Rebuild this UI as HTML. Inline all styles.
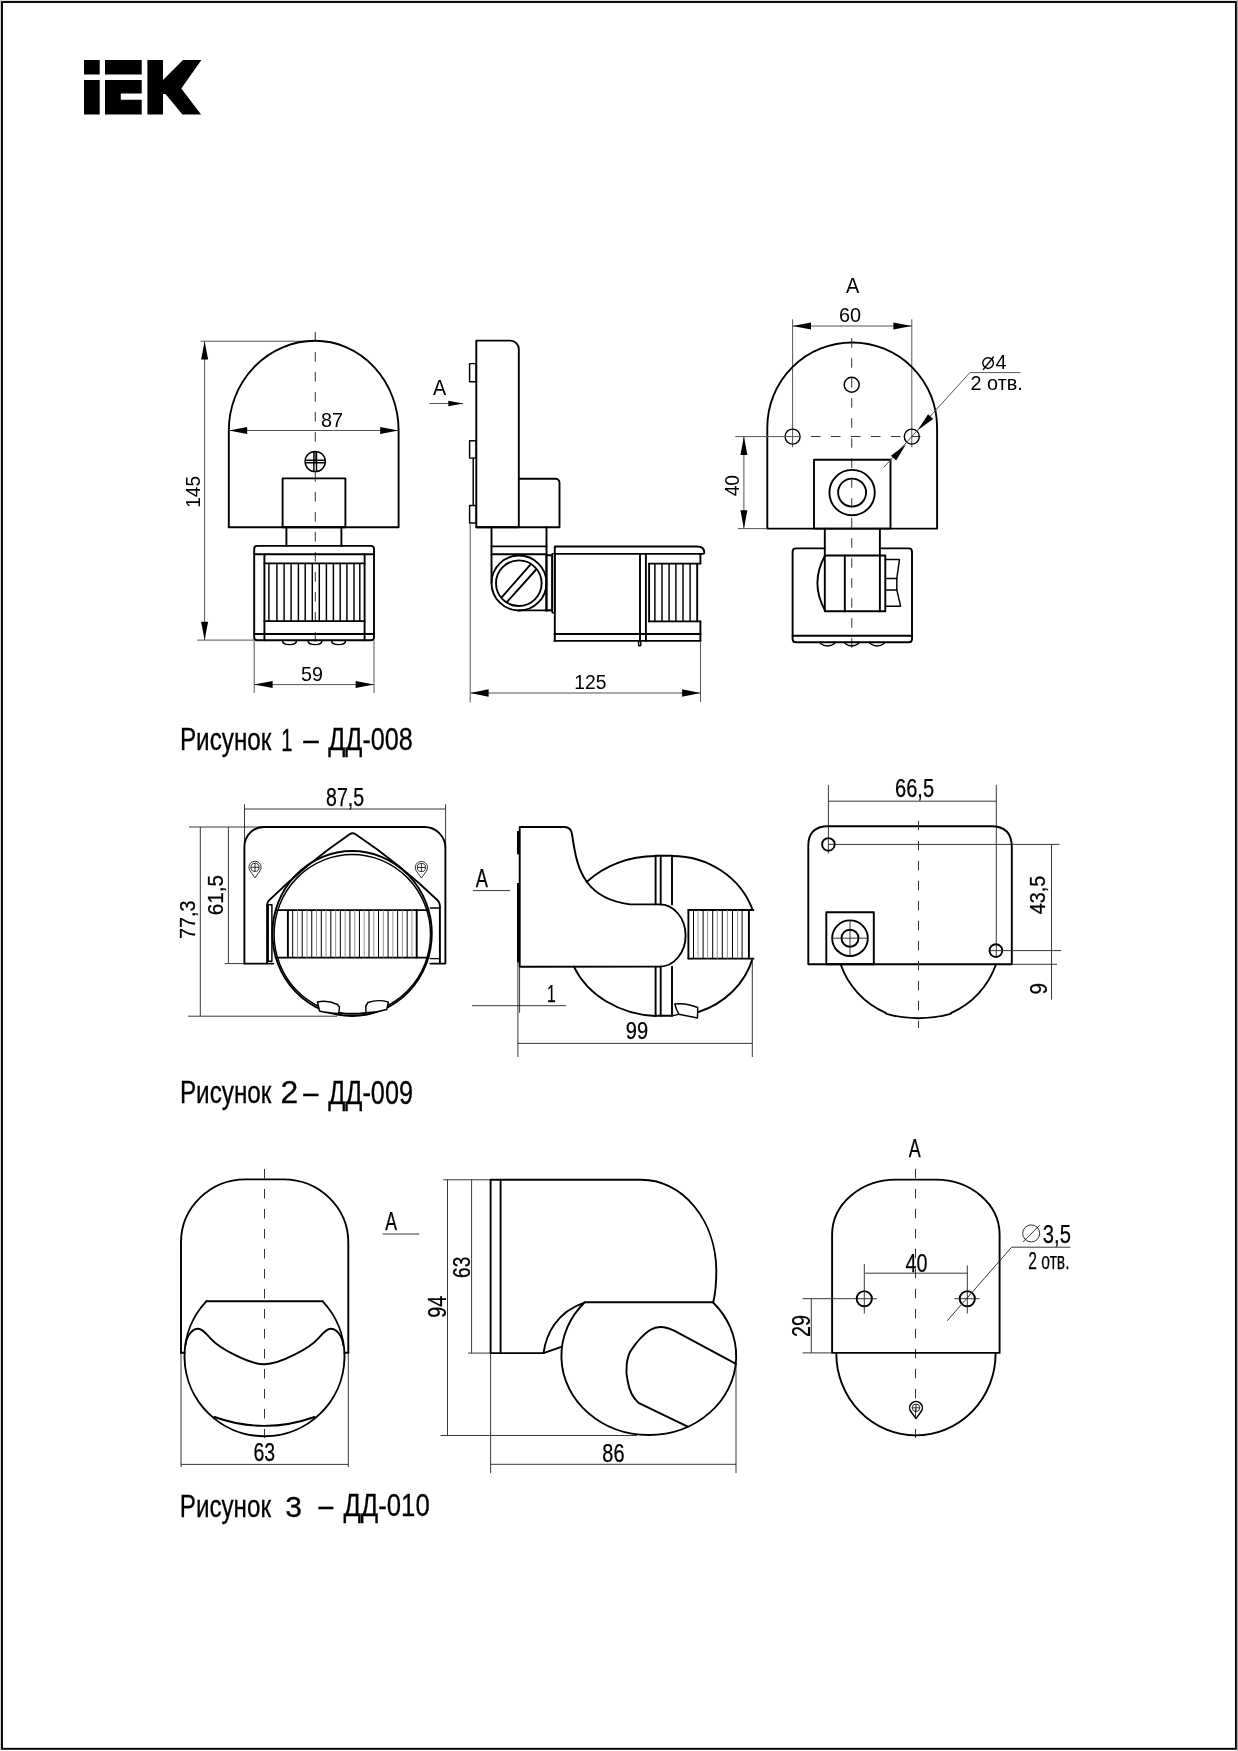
<!DOCTYPE html>
<html><head><meta charset="utf-8"><style>
html,body{margin:0;padding:0;background:#fff;overflow:hidden}
svg{display:block;filter:grayscale(1)}

.t{fill:none;stroke:#000;stroke-width:1.9;stroke-linejoin:round;stroke-linecap:round}
.m{fill:none;stroke:#000;stroke-width:1.45;stroke-linejoin:round;stroke-linecap:round}
.d{fill:none;stroke:#555;stroke-width:1}
.d2{fill:none;stroke:#222;stroke-width:0.9}
.c{fill:none;stroke:#333;stroke-width:1;stroke-dasharray:9.5 10.5}
.ar{fill:#000;stroke:none}
.rb{stroke:#000;stroke-width:1}
.rg{stroke:#888;stroke-width:0.9}
.s{fill:none;stroke:#000;stroke-width:0.8}
.mw{fill:#fff;stroke:#000;stroke-width:1.45;stroke-linejoin:round}
.tx{font-family:"Liberation Sans",sans-serif;fill:#000}
.tc{font-family:"Liberation Sans",sans-serif;fill:#000;stroke:#000;stroke-width:0.3}
.tn{font-family:"Liberation Sans",sans-serif;fill:#000;stroke:#000;stroke-width:0.25}
</style></head><body>
<svg width="1238" height="1751" viewBox="0 0 1238 1751">
<rect x="0" y="0" width="1238" height="1751" fill="#fff" stroke="none"/>
<rect x="0" y="0" width="1238" height="1" fill="#e2e2e2"/><rect x="0" y="0" width="1" height="1751" fill="#cfcfcf"/><rect x="1237" y="0" width="1" height="1751" fill="#a8a8a8"/>
<rect x="2" y="2" width="1233.9" height="1746.8" fill="none" stroke="#000" stroke-width="1.9"/>
<path d="M84,60H99.7V74.6H84Z M84,80H99.7V114.5H84Z M105,60H141.7V74.6H105Z M105,80H141.7V93.5H120.8V99.8H141.7V114.5H105Z M147.4,60H163V80L183,60H201.4L181.3,88.4L201.1,114.5H182.4L165.5,94H163V114.5H147.4Z" fill="#000" stroke="none"/>
<line x1="315.3" y1="332.1" x2="315.3" y2="644" class="c"/>
<line x1="200.5" y1="341.2" x2="313" y2="341.2" class="d"/>
<line x1="197" y1="640.1" x2="254" y2="640.1" class="d"/>
<line x1="204.6" y1="341.2" x2="204.6" y2="640.1" class="d"/>
<polygon points="204.6,341.2 208.1,359.6 201.1,359.6" class="ar"/>
<polygon points="204.6,640.1 201.1,621.7 208.1,621.7" class="ar"/>
<text x="199.9" y="507.75" font-size="20.06" text-anchor="start" transform="rotate(-90 199.9 507.75)" textLength="31.86" lengthAdjust="spacingAndGlyphs" class="tx">145</text>
<path d="M228.8,527.2 V430.5 A86.4,89.7 0 0 1 315.2,340.8 A83.4,89.7 0 0 1 398.6,430.5 V527.2 Z" class="t"/>
<line x1="228.8" y1="430.5" x2="398.6" y2="430.5" class="d"/>
<polygon points="228.8,430.5 247.2,427 247.2,434" class="ar"/>
<polygon points="398.6,430.5 380.2,434 380.2,427" class="ar"/>
<text x="321.04" y="426.7" font-size="20.2" text-anchor="start" textLength="22.06" lengthAdjust="spacingAndGlyphs" class="tx">87</text>
<circle cx="315.2" cy="461.5" r="10.1" class="m"/>
<line x1="313.9" y1="452" x2="313.9" y2="471" class="m"/>
<line x1="316.5" y1="452" x2="316.5" y2="471" class="m"/>
<line x1="305.5" y1="460.2" x2="325" y2="460.2" class="m"/>
<line x1="305.5" y1="462.8" x2="325" y2="462.8" class="m"/>
<rect x="282.6" y="478.4" width="62.8" height="48.8" rx="0" class="t"/>
<line x1="286.4" y1="527.2" x2="286.4" y2="545.9" class="t"/>
<line x1="341.4" y1="527.2" x2="341.4" y2="545.9" class="t"/>
<rect x="254.2" y="545.9" width="119.8" height="94.3" rx="3" class="t"/>
<line x1="254.2" y1="554.2" x2="374" y2="554.2" class="t"/>
<line x1="254.2" y1="634" x2="374" y2="634" class="t"/>
<line x1="264.4" y1="554.2" x2="264.4" y2="640.2" class="t"/>
<line x1="364.6" y1="554.2" x2="364.6" y2="640.2" class="t"/>
<line x1="264.4" y1="563.4" x2="364.6" y2="563.4" class="t"/>
<line x1="264.4" y1="621.1" x2="364.6" y2="621.1" class="t"/>
<line x1="268.9" y1="563.4" x2="268.9" y2="621.1" class="m"/>
<line x1="276.9" y1="563.4" x2="276.9" y2="621.1" class="m"/>
<line x1="284.1" y1="563.4" x2="284.1" y2="621.1" class="m"/>
<line x1="291.1" y1="563.4" x2="291.1" y2="621.1" class="m"/>
<line x1="298.4" y1="563.4" x2="298.4" y2="621.1" class="m"/>
<line x1="305.2" y1="563.4" x2="305.2" y2="621.1" class="m"/>
<line x1="312.3" y1="563.4" x2="312.3" y2="621.1" class="m"/>
<line x1="319.3" y1="563.4" x2="319.3" y2="621.1" class="m"/>
<line x1="326.4" y1="563.4" x2="326.4" y2="621.1" class="m"/>
<line x1="333.4" y1="563.4" x2="333.4" y2="621.1" class="m"/>
<line x1="340.2" y1="563.4" x2="340.2" y2="621.1" class="m"/>
<line x1="346.9" y1="563.4" x2="346.9" y2="621.1" class="m"/>
<line x1="354" y1="563.4" x2="354" y2="621.1" class="m"/>
<line x1="359.8" y1="563.4" x2="359.8" y2="621.1" class="m"/>
<path d="M282.5,640.4 Q282.5,644.6 289.5,644.6 Q296.5,644.6 296.5,640.4" class="m"/>
<path d="M308,640.4 Q308,644.6 315,644.6 Q322,644.6 322,640.4" class="m"/>
<path d="M331.6,640.4 Q331.6,644.6 338.6,644.6 Q345.6,644.6 345.6,640.4" class="m"/>
<line x1="254.2" y1="640.2" x2="254.2" y2="693" class="d"/>
<line x1="374" y1="640.2" x2="374" y2="693" class="d"/>
<line x1="254.2" y1="684.6" x2="374" y2="684.6" class="d"/>
<polygon points="254.2,684.6 272.6,681.1 272.6,688.1" class="ar"/>
<polygon points="374,684.6 355.6,688.1 355.6,681.1" class="ar"/>
<text x="301.11" y="680.7" font-size="20.2" text-anchor="start" textLength="21.92" lengthAdjust="spacingAndGlyphs" class="tx">59</text>
<path d="M476.3,527.2 V340.6 H510.3 A8.5,8.5 0 0 1 518.8,349.1 V527.2 Z" class="t"/>
<rect x="469.6" y="363.6" width="6.7" height="18.2" rx="0" class="m"/>
<rect x="469.6" y="440.7" width="6.7" height="17.4" rx="0" class="m"/>
<rect x="469.6" y="505.4" width="6.7" height="17.6" rx="0" class="m"/>
<line x1="473.2" y1="458.1" x2="473.2" y2="505.4" class="m"/>
<path d="M518.8,478.7 H555.5 A4,4 0 0 1 559.5,482.7 V527.2 H476.3" class="t"/>
<line x1="491.5" y1="527.2" x2="491.5" y2="582.5" class="t"/>
<line x1="546.5" y1="527.2" x2="546.5" y2="610.9" class="t"/>
<line x1="491.5" y1="546.4" x2="546.5" y2="546.4" class="t"/>
<line x1="491.5" y1="554.2" x2="546.5" y2="554.2" class="t"/>
<line x1="518" y1="610.4" x2="552.2" y2="610.4" class="t"/>
<rect x="546.4" y="555.2" width="5.8" height="55.2" rx="0" class="t"/>
<rect x="552.2" y="553.6" width="2.6" height="59.1" rx="0" class="m"/>
<circle cx="519" cy="583" r="27.5" class="t"/>
<circle cx="518.8" cy="583.2" r="22.8" class="t"/>
<line x1="502.1" y1="596.9" x2="530.2" y2="564.9" class="t"/>
<line x1="507.3" y1="601.7" x2="535.7" y2="570" class="t"/>
<path d="M554.8,640.9 V546.5 H697.2 Q704.3,546.5 704.3,552.9 Q704.3,553.9 701,553.9 H554.8" class="t"/>
<line x1="700.4" y1="554.2" x2="700.4" y2="563.6" class="t"/>
<line x1="700.4" y1="621.4" x2="700.4" y2="640.9" class="t"/>
<line x1="554.5" y1="640.9" x2="700.4" y2="640.9" class="t"/>
<line x1="554.5" y1="634" x2="700.5" y2="634" class="t"/>
<line x1="640" y1="554.2" x2="640" y2="640.9" class="t"/>
<line x1="645.9" y1="554.2" x2="645.9" y2="640.9" class="t"/>
<path d="M638.6,640.9 V645.2 Q639.6,646.5 640.8,645.2 V640.9" class="m"/>
<line x1="649.1" y1="563.6" x2="700.4" y2="563.6" class="t"/>
<line x1="649.1" y1="621.4" x2="700.4" y2="621.4" class="t"/>
<line x1="649.1" y1="563.6" x2="649.1" y2="621.4" class="t"/>
<line x1="697.2" y1="563.6" x2="697.2" y2="621.4" class="t"/>
<line x1="654.9" y1="563.6" x2="654.9" y2="621.4" class="m"/>
<line x1="662" y1="563.6" x2="662" y2="621.4" class="m"/>
<line x1="669.1" y1="563.6" x2="669.1" y2="621.4" class="m"/>
<line x1="675.9" y1="563.6" x2="675.9" y2="621.4" class="m"/>
<line x1="683" y1="563.6" x2="683" y2="621.4" class="m"/>
<line x1="690.1" y1="563.6" x2="690.1" y2="621.4" class="m"/>
<text x="432.96" y="395.3" font-size="21.37" text-anchor="start" textLength="13.18" lengthAdjust="spacingAndGlyphs" class="tx">A</text>
<line x1="429.3" y1="403.5" x2="463" y2="403.5" class="d"/>
<polygon points="463,403.5 448.3,406.3 448.3,400.7" class="ar"/>
<line x1="470.2" y1="524" x2="470.2" y2="702.5" class="d"/>
<line x1="700.5" y1="641" x2="700.5" y2="702" class="d"/>
<line x1="470.2" y1="693" x2="700.5" y2="693" class="d"/>
<polygon points="470.2,693 488.6,689.3 488.6,696.7" class="ar"/>
<polygon points="700.5,693 682.1,696.7 682.1,689.3" class="ar"/>
<text x="574.34" y="688.71" font-size="19.63" text-anchor="start" textLength="32.07" lengthAdjust="spacingAndGlyphs" class="tx">125</text>
<text x="845.96" y="292.8" font-size="21.51" text-anchor="start" textLength="13.28" lengthAdjust="spacingAndGlyphs" class="tx">A</text>
<text x="838.89" y="322.2" font-size="20.34" text-anchor="start" textLength="22.08" lengthAdjust="spacingAndGlyphs" class="tx">60</text>
<line x1="792.6" y1="319.3" x2="792.6" y2="447.3" class="d"/>
<line x1="911.8" y1="319.3" x2="911.8" y2="447.3" class="d"/>
<line x1="792.6" y1="326" x2="911.8" y2="326" class="d"/>
<polygon points="792.6,326 811,322.5 811,329.5" class="ar"/>
<polygon points="911.8,326 893.4,329.5 893.4,322.5" class="ar"/>
<path d="M767.3,528.6 V427.4 A84.9,84.9 0 0 1 937.1,427.4 V528.6 Z" class="t"/>
<line x1="851.7" y1="338.2" x2="851.8" y2="654" class="c"/>
<line x1="811" y1="436.5" x2="921" y2="436.5" class="c"/>
<circle cx="851.7" cy="384.7" r="7.5" class="m"/>
<circle cx="792.6" cy="436.6" r="7.5" class="m"/>
<circle cx="911.8" cy="436.6" r="7.5" class="m"/>
<line x1="735.3" y1="436.6" x2="800" y2="436.6" class="d"/>
<line x1="738" y1="528.6" x2="767.3" y2="528.6" class="d"/>
<line x1="743.9" y1="436.6" x2="743.9" y2="528.6" class="d"/>
<polygon points="743.9,436.6 747.4,455 740.4,455" class="ar"/>
<polygon points="743.9,528.6 740.4,510.2 747.4,510.2" class="ar"/>
<text x="739.5" y="496.34" font-size="20.06" text-anchor="start" transform="rotate(-90 739.5 496.34)" textLength="21.39" lengthAdjust="spacingAndGlyphs" class="tx">40</text>
<rect x="814" y="459.8" width="76.5" height="68.8" rx="0" class="t"/>
<circle cx="852.1" cy="492.6" r="22.7" class="t"/>
<circle cx="852.1" cy="492.6" r="14" class="t"/>
<polyline points="883.8,467.3 969.9,372.6 1020.5,372.6" class="d"/>
<polygon points="917.9,429.9 928.06,414.16 933.12,418.99" class="ar"/>
<polygon points="905.9,444.6 896.11,460.57 890.93,455.86" class="ar"/>
<circle cx="988.1" cy="363.1" r="5.3" class="m"/>
<line x1="983.4" y1="369.4" x2="993.4" y2="357" class="m"/>
<text x="995.54" y="369.1" font-size="20.35" text-anchor="start" textLength="11.04" lengthAdjust="spacingAndGlyphs" class="tx">4</text>
<text x="970.51" y="390.31" font-size="19.49" text-anchor="start" textLength="52.29" lengthAdjust="spacingAndGlyphs" class="tx">2 отв.</text>
<line x1="824.8" y1="528.6" x2="824.8" y2="555.5" class="t"/>
<line x1="879.9" y1="528.6" x2="879.9" y2="555.5" class="t"/>
<path d="M824.8,548.4 H795.9 Q792.6,548.4 792.6,551.7 V638.9 Q792.6,642.2 795.9,642.2 H908.7 Q912,642.2 912,638.9 V551.7 Q912,548.4 908.7,548.4 H879.9" class="t"/>
<line x1="792.6" y1="635.7" x2="912" y2="635.7" class="t"/>
<rect x="824.8" y="555.5" width="60.5" height="55.7" rx="0" class="t"/>
<line x1="844.8" y1="555.5" x2="844.8" y2="611.2" class="t"/>
<line x1="879.9" y1="555.5" x2="879.9" y2="611.2" class="t"/>
<path d="M824.8,556 Q810,583 824.8,610" class="t"/>
<path d="M885.3,559.4 H899.5 L896.8,578.4 V589.9 L900.6,606.2 H885.3" class="m"/>
<line x1="885.3" y1="578.4" x2="896.8" y2="578.4" class="m"/>
<line x1="885.3" y1="589.9" x2="896.8" y2="589.9" class="m"/>
<path d="M820.4,642.2 V643.5 Q827.5,648.5 834.6,643.5 V642.2" class="m"/>
<path d="M845,642.2 V643.5 Q851.8,648.5 858.6,643.5 V642.2" class="m"/>
<path d="M870.1,642.2 V643.5 Q877.1500000000001,648.5 884.2,643.5 V642.2" class="m"/>
<text x="179.91" y="749.6" font-size="30.96" text-anchor="start" textLength="91.47" lengthAdjust="spacingAndGlyphs" class="tc">Рисунок</text>
<text x="281.16" y="750.6" font-size="30.96" text-anchor="start" textLength="11.22" lengthAdjust="spacingAndGlyphs" class="tc">1</text>
<text x="303.2" y="750" font-size="31" text-anchor="start" textLength="15.51" lengthAdjust="spacingAndGlyphs" class="tc">–</text>
<text x="328.22" y="750.1" font-size="31.69" text-anchor="start" textLength="84.68" lengthAdjust="spacingAndGlyphs" class="tc">ДД-008</text>
<text x="326.05" y="805.8" font-size="25.73" text-anchor="start" textLength="37.97" lengthAdjust="spacingAndGlyphs" class="tn">87,5</text>
<line x1="244.5" y1="809" x2="445.6" y2="809" class="d2"/>
<line x1="244.5" y1="804.3" x2="244.5" y2="845" class="d2"/>
<line x1="445.6" y1="804.3" x2="445.6" y2="848" class="d2"/>
<line x1="189" y1="827" x2="262" y2="827" class="d2"/>
<line x1="200.3" y1="827" x2="200.3" y2="1016" class="d2"/>
<line x1="188" y1="1016.2" x2="337" y2="1016.2" class="d2"/>
<line x1="228.4" y1="827" x2="228.4" y2="963.6" class="d2"/>
<line x1="225" y1="963.6" x2="244.4" y2="963.6" class="d2"/>
<text x="195.43" y="938.91" font-size="21.67" text-anchor="start" transform="rotate(-90 195.43 938.91)" textLength="38.27" lengthAdjust="spacingAndGlyphs" class="tn">77,3</text>
<text x="222.78" y="915.25" font-size="22.03" text-anchor="start" transform="rotate(-90 222.78 915.25)" textLength="40.22" lengthAdjust="spacingAndGlyphs" class="tn">61,5</text>
<path d="M244.4,963.6 V846.5 A19.5,19.5 0 0 1 263.9,827 H424.4 A21,21 0 0 1 445.4,848 V963.6 H430.3" class="t"/>
<line x1="244.4" y1="963.6" x2="273.3" y2="963.6" class="t"/>
<path d="M267.1,963.1 V905 Q267.1,902.3 268.8,900.6 Q306.3,863.9 349.6,834.3 Q352.6,832.3 355.6,834.3 Q399.4,863.7 437.5,900.2 Q439.9,902.5 439.9,905.5 V963" class="t"/>
<rect x="268.2" y="904.8" width="3.7" height="56.5" rx="0" class="m"/>
<line x1="430.3" y1="908" x2="439.8" y2="908" class="m"/>
<line x1="430.3" y1="958.6" x2="439.8" y2="958.6" class="m"/>
<ellipse cx="352.1" cy="933.5" rx="79.7" ry="82.5" class="t"/>
<ellipse cx="352.3" cy="934.3" rx="78.2" ry="79.8" class="m"/>
<line x1="276" y1="910.1" x2="428.3" y2="910.1" class="t"/>
<line x1="275.6" y1="957.6" x2="428.6" y2="957.6" class="t"/>
<line x1="287.9" y1="910.1" x2="287.9" y2="957.6" class="t"/>
<line x1="416.7" y1="910.1" x2="416.7" y2="957.6" class="t"/>
<line x1="292.67" y1="910.1" x2="292.67" y2="957.6" class="rb"/>
<line x1="297.44" y1="910.1" x2="297.44" y2="957.6" class="rg"/>
<line x1="302.21" y1="910.1" x2="302.21" y2="957.6" class="rb"/>
<line x1="306.98" y1="910.1" x2="306.98" y2="957.6" class="rg"/>
<line x1="311.75" y1="910.1" x2="311.75" y2="957.6" class="rb"/>
<line x1="316.52" y1="910.1" x2="316.52" y2="957.6" class="rg"/>
<line x1="321.29" y1="910.1" x2="321.29" y2="957.6" class="rb"/>
<line x1="326.06" y1="910.1" x2="326.06" y2="957.6" class="rg"/>
<line x1="330.83" y1="910.1" x2="330.83" y2="957.6" class="rb"/>
<line x1="335.6" y1="910.1" x2="335.6" y2="957.6" class="rg"/>
<line x1="340.37" y1="910.1" x2="340.37" y2="957.6" class="rb"/>
<line x1="345.14" y1="910.1" x2="345.14" y2="957.6" class="rg"/>
<line x1="349.91" y1="910.1" x2="349.91" y2="957.6" class="rb"/>
<line x1="354.69" y1="910.1" x2="354.69" y2="957.6" class="rg"/>
<line x1="359.46" y1="910.1" x2="359.46" y2="957.6" class="rb"/>
<line x1="364.23" y1="910.1" x2="364.23" y2="957.6" class="rg"/>
<line x1="369" y1="910.1" x2="369" y2="957.6" class="rb"/>
<line x1="373.77" y1="910.1" x2="373.77" y2="957.6" class="rg"/>
<line x1="378.54" y1="910.1" x2="378.54" y2="957.6" class="rb"/>
<line x1="383.31" y1="910.1" x2="383.31" y2="957.6" class="rg"/>
<line x1="388.08" y1="910.1" x2="388.08" y2="957.6" class="rb"/>
<line x1="392.85" y1="910.1" x2="392.85" y2="957.6" class="rg"/>
<line x1="397.62" y1="910.1" x2="397.62" y2="957.6" class="rb"/>
<line x1="402.39" y1="910.1" x2="402.39" y2="957.6" class="rg"/>
<line x1="407.16" y1="910.1" x2="407.16" y2="957.6" class="rb"/>
<line x1="411.93" y1="910.1" x2="411.93" y2="957.6" class="rg"/>
<path d="M250.03,870.84 A6.1,6.1 0 1 1 259.97,870.84 L255,877.8 Z" class="s"/>
<circle cx="255" cy="867.3" r="4.1" class="s"/>
<line x1="250.9" y1="867.3" x2="259.1" y2="867.3" class="s"/>
<line x1="255" y1="863.2" x2="255" y2="871.4" class="s"/>
<path d="M416.43,871.04 A6.1,6.1 0 1 1 426.37,871.04 L421.4,878 Z" class="s"/>
<circle cx="421.4" cy="867.5" r="4.1" class="s"/>
<line x1="417.3" y1="867.5" x2="425.5" y2="867.5" class="s"/>
<line x1="421.4" y1="863.4" x2="421.4" y2="871.6" class="s"/>
<path d="M317.5,1002 Q327,999.5 337.5,1004.5 L339.5,1007 L338.8,1013.5 Q327,1013 319.5,1011 Z" class="mw"/>
<path d="M365.8,1006 L366,1012.8 Q377,1012.5 386.8,1009.5 L388.3,1002 Q378,999 368,1002.5 Z" class="mw"/>
<path d="M339,1012.6 Q352,1014.4 366,1012.6" class="m"/>
<text x="475.86" y="886.9" font-size="24.86" text-anchor="start" textLength="12.17" lengthAdjust="spacingAndGlyphs" class="tn">A</text>
<line x1="473" y1="890.6" x2="510" y2="890.6" class="d2"/>
<path d="M586.6,882 A93.5,80 0 0 1 655.6,856" class="t"/>
<path d="M574,966.8 A93.5,80 0 0 0 655.6,1016" class="t"/>
<line x1="655.6" y1="855.8" x2="655.6" y2="904.4" class="t"/>
<line x1="655.6" y1="966.6" x2="655.6" y2="1015.8" class="t"/>
<line x1="660.7" y1="855.8" x2="660.7" y2="904.4" class="t"/>
<line x1="660.7" y1="966.6" x2="660.7" y2="1015.8" class="t"/>
<line x1="672" y1="855.8" x2="672" y2="904.4" class="t"/>
<line x1="672" y1="966.6" x2="672" y2="1015.8" class="t"/>
<line x1="655.6" y1="855.8" x2="672" y2="855.8" class="t"/>
<line x1="655.6" y1="1015.8" x2="672" y2="1015.8" class="t"/>
<path d="M672,856 A85,80 0 0 1 752.6,910" class="t"/>
<path d="M752.6,958.6 A85,80 0 0 1 698.5,1012" class="t"/>
<path d="M519.7,966.8 V827 H564.3 Q571,827 572,834 C575,855 578,870 587,882 C597,896 612,902 630,904.4 H659.6 A26,31.1 0 0 1 659.6,966.6 Z" class="t"/>
<rect x="517" y="831.1" width="2.8" height="23.3" class="ar"/>
<rect x="517" y="883" width="2.8" height="79.5" class="ar"/>
<line x1="688.4" y1="910" x2="753.4" y2="910" class="t"/>
<line x1="688.4" y1="958.6" x2="753.4" y2="958.6" class="t"/>
<line x1="688.4" y1="910" x2="688.4" y2="958.6" class="t"/>
<line x1="748.9" y1="910" x2="748.9" y2="958.6" class="t"/>
<line x1="693.5" y1="910" x2="693.5" y2="958.6" class="rb"/>
<line x1="698" y1="910" x2="698" y2="958.6" class="rg"/>
<line x1="703.1" y1="910" x2="703.1" y2="958.6" class="rb"/>
<line x1="707.6" y1="910" x2="707.6" y2="958.6" class="rg"/>
<line x1="712.7" y1="910" x2="712.7" y2="958.6" class="rb"/>
<line x1="717.3" y1="910" x2="717.3" y2="958.6" class="rg"/>
<line x1="722.3" y1="910" x2="722.3" y2="958.6" class="rb"/>
<line x1="727.4" y1="910" x2="727.4" y2="958.6" class="rg"/>
<line x1="732.5" y1="910" x2="732.5" y2="958.6" class="rb"/>
<line x1="737.6" y1="910" x2="737.6" y2="958.6" class="rg"/>
<line x1="742.1" y1="910" x2="742.1" y2="958.6" class="rb"/>
<path d="M674.8,1004 Q686,1002.5 697.7,1007.5 L697.5,1018 L678.8,1014.2 Q676,1009 674.8,1004 Z" class="mw"/>
<path d="M672,1015.8 Q676,1015.5 678.8,1014.2" class="m"/>
<line x1="472.1" y1="1005.7" x2="566.1" y2="1005.7" class="d2"/>
<text x="547" y="1001.8" font-size="23.98" text-anchor="start" textLength="8.77" lengthAdjust="spacingAndGlyphs" class="tn">1</text>
<line x1="517.9" y1="962.5" x2="517.9" y2="1057" class="d2"/>
<line x1="519.6" y1="966.8" x2="519.6" y2="1012.8" class="d2"/>
<line x1="517.7" y1="1043.4" x2="752.5" y2="1043.4" class="d2"/>
<line x1="752.3" y1="958.6" x2="752.3" y2="1057" class="d2"/>
<text x="625.76" y="1038.87" font-size="23.3" text-anchor="start" textLength="22.29" lengthAdjust="spacingAndGlyphs" class="tn">99</text>
<text x="895.08" y="797.4" font-size="25.58" text-anchor="start" textLength="38.96" lengthAdjust="spacingAndGlyphs" class="tn">66,5</text>
<line x1="828.4" y1="801.2" x2="996.3" y2="801.2" class="d2"/>
<line x1="828.4" y1="784.8" x2="828.4" y2="853.5" class="d2"/>
<line x1="996.3" y1="784.8" x2="996.3" y2="957" class="d2"/>
<path d="M808.3,964.3 V846 Q808.3,826.3 828,826.3 H991 Q1011.8,826.3 1011.8,847 V964.3 Z" class="t"/>
<line x1="918.5" y1="820.8" x2="918.5" y2="1028" class="c"/>
<circle cx="828.4" cy="844.4" r="6.3" class="t"/>
<circle cx="995.9" cy="950.6" r="6.4" class="t"/>
<line x1="828.4" y1="844.4" x2="1059.5" y2="844.4" class="d2"/>
<line x1="989" y1="950.6" x2="1061.4" y2="950.6" class="d2"/>
<line x1="1012" y1="964.3" x2="1057" y2="964.3" class="d2"/>
<line x1="1051.5" y1="844.4" x2="1051.5" y2="999.6" class="d2"/>
<text x="1044.59" y="914.25" font-size="21.18" text-anchor="start" transform="rotate(-90 1044.59 914.25)" textLength="38.38" lengthAdjust="spacingAndGlyphs" class="tn">43,5</text>
<text x="1047.06" y="994.57" font-size="24.72" text-anchor="start" transform="rotate(-90 1047.06 994.57)" textLength="11.56" lengthAdjust="spacingAndGlyphs" class="tn">9</text>
<rect x="826.3" y="912.2" width="47.5" height="52.1" rx="0" class="t"/>
<circle cx="850" cy="938.2" r="17.8" class="t"/>
<circle cx="850" cy="938.2" r="8.5" class="t"/>
<line x1="832" y1="938.2" x2="868" y2="938.2" class="d2"/>
<line x1="850" y1="920" x2="850" y2="956" class="d2"/>
<path d="M840.7,964.5 A82.2,82.2 0 0 0 885.7,1012.8 L886.5,1013.8 A120,120 0 0 0 950.5,1013.8 L951.3,1012.8 A82.2,82.2 0 0 0 995.9,964.5" class="t"/>
<text x="179.91" y="1103.2" font-size="31.1" text-anchor="start" textLength="91.47" lengthAdjust="spacingAndGlyphs" class="tc">Рисунок</text>
<text x="280.6" y="1103.2" font-size="31.1" text-anchor="start" textLength="17.7" lengthAdjust="spacingAndGlyphs" class="tc">2</text>
<text x="303.2" y="1103.4" font-size="31" text-anchor="start" textLength="15.11" lengthAdjust="spacingAndGlyphs" class="tc">–</text>
<text x="328.21" y="1103.7" font-size="32.41" text-anchor="start" textLength="84.78" lengthAdjust="spacingAndGlyphs" class="tc">ДД-009</text>
<line x1="264.5" y1="1169" x2="264.5" y2="1438" class="c"/>
<path d="M181,1352.8 V1242.4 A64.6,63 0 0 1 245.6,1179.4 H283.4 A64.9,63 0 0 1 348.3,1242.4 V1352.8" class="t"/>
<line x1="181" y1="1352.8" x2="184.5" y2="1352.8" class="t"/>
<line x1="344.6" y1="1352.8" x2="348.3" y2="1352.8" class="t"/>
<path d="M206.3,1301.3 H322.7" class="t"/>
<path d="M206.3,1301.3 A80,80 0 1 0 322.7,1301.3" class="t"/>
<path d="M185.6,1345 C186.5,1336 192,1328.8 198.2,1328.8 C202.5,1328.8 207,1334.5 210.5,1338.3 C218.5,1347.5 248,1364.2 264.4,1364.2 C280.8,1364.2 310.3,1347.5 318.3,1338.3 C321.8,1334.5 326.3,1328.8 330.6,1328.8 C336.8,1328.8 342.3,1336 343.2,1345" class="t"/>
<path d="M214.5,1417 Q264.5,1434.8 314.5,1417" class="t"/>
<line x1="181" y1="1353" x2="181" y2="1467" class="d2"/>
<line x1="348.3" y1="1353" x2="348.3" y2="1467" class="d2"/>
<line x1="181" y1="1464.4" x2="348.3" y2="1464.4" class="d2"/>
<text x="253.41" y="1461.46" font-size="25" text-anchor="start" textLength="21.64" lengthAdjust="spacingAndGlyphs" class="tn">63</text>
<text x="385.27" y="1230.4" font-size="24.86" text-anchor="start" textLength="11.77" lengthAdjust="spacingAndGlyphs" class="tn">A</text>
<line x1="382.5" y1="1234" x2="419.3" y2="1234" class="d2"/>
<path d="M490.6,1353.1 V1179.8 H641.5 A74.8,91.3 0 0 1 716.3,1271 Q716.3,1290 713.2,1302.3" class="t"/>
<line x1="500.6" y1="1179.8" x2="500.6" y2="1353.1" class="t"/>
<line x1="490.6" y1="1353.1" x2="543.5" y2="1353.1" class="t"/>
<line x1="585" y1="1302.3" x2="713.2" y2="1302.3" class="t"/>
<path d="M543.5,1353.1 C546,1335 556,1312 585,1302.3" class="t"/>
<line x1="543.5" y1="1353.1" x2="561.3" y2="1346.8" class="t"/>
<path d="M584.5,1302.5 A87.4,79 0 1 0 713.1,1302.5" class="t"/>
<path d="M736,1363.8 L674.1,1330.7 C667,1327 658,1325 650,1330 C644,1334 636,1343 631.7,1349.4 C626,1357 625.5,1372 627.5,1380 C629,1390 633,1398 638.5,1402.8 L687.7,1426.6" class="t"/>
<line x1="443.3" y1="1179.8" x2="490.6" y2="1179.8" class="d2"/>
<line x1="440.6" y1="1435.5" x2="637" y2="1435.5" class="d2"/>
<line x1="447.5" y1="1179.8" x2="447.5" y2="1435.5" class="d2"/>
<line x1="471.6" y1="1179.8" x2="471.6" y2="1353.1" class="d2"/>
<line x1="468" y1="1353.1" x2="490.6" y2="1353.1" class="d2"/>
<text x="445.75" y="1317.83" font-size="25.28" text-anchor="start" transform="rotate(-90 445.75 1317.83)" textLength="22.01" lengthAdjust="spacingAndGlyphs" class="tn">94</text>
<text x="469.56" y="1277.87" font-size="24.72" text-anchor="start" transform="rotate(-90 469.56 1277.87)" textLength="21.21" lengthAdjust="spacingAndGlyphs" class="tn">63</text>
<line x1="490.6" y1="1353.1" x2="490.6" y2="1473" class="d2"/>
<line x1="736" y1="1363" x2="736" y2="1473" class="d2"/>
<line x1="490.6" y1="1464.3" x2="736" y2="1464.3" class="d2"/>
<text x="602.34" y="1462.05" font-size="25.56" text-anchor="start" textLength="22.14" lengthAdjust="spacingAndGlyphs" class="tn">86</text>
<text x="908.86" y="1157.3" font-size="25.15" text-anchor="start" textLength="11.97" lengthAdjust="spacingAndGlyphs" class="tn">A</text>
<line x1="915.5" y1="1168.8" x2="915.5" y2="1438" class="c"/>
<path d="M832.1,1352.9 V1234.6 A64,55 0 0 1 896.1,1179.6 H935.6 A64,55 0 0 1 999.6,1234.6 V1352.9 Z" class="t"/>
<path d="M836.3,1353.5 A79.6,81.8 0 0 0 995.6,1353.5" class="t"/>
<circle cx="864.3" cy="1298.7" r="7.6" class="t"/>
<circle cx="967.3" cy="1298.7" r="7.6" class="t"/>
<line x1="851.6" y1="1298.7" x2="876.8" y2="1298.7" class="d2"/>
<line x1="954.4" y1="1298.7" x2="979.6" y2="1298.7" class="d2"/>
<line x1="864.3" y1="1264" x2="864.3" y2="1313.6" class="d2"/>
<line x1="967.3" y1="1265.5" x2="967.3" y2="1313.6" class="d2"/>
<line x1="865" y1="1273.2" x2="967.5" y2="1273.2" class="d2"/>
<text x="905.45" y="1271.56" font-size="25" text-anchor="start" textLength="22.03" lengthAdjust="spacingAndGlyphs" class="tn">40</text>
<line x1="802.5" y1="1298.7" x2="851.6" y2="1298.7" class="d2"/>
<line x1="802.5" y1="1352.9" x2="831.8" y2="1352.9" class="d2"/>
<line x1="811.3" y1="1298.7" x2="811.3" y2="1352.9" class="d2"/>
<text x="809.65" y="1336.89" font-size="25.28" text-anchor="start" transform="rotate(-90 809.65 1336.89)" textLength="21.92" lengthAdjust="spacingAndGlyphs" class="tn">29</text>
<polyline points="947.3,1320.7 1011.6,1247.2 1070.5,1247.2" class="d2"/>
<circle cx="1031.2" cy="1233.4" r="8.5" class="s"/>
<line x1="1023" y1="1241.8" x2="1039.7" y2="1225.3" class="s"/>
<text x="1042.83" y="1242.5" font-size="25" text-anchor="start" textLength="28.01" lengthAdjust="spacingAndGlyphs" class="tn">3,5</text>
<text x="1028.32" y="1268.67" font-size="23.59" text-anchor="start" textLength="41.2" lengthAdjust="spacingAndGlyphs" class="tn">2 отв.</text>
<path d="M910.88,1411.47 A6.3,6.3 0 1 1 921.12,1411.47 L916,1418.6 Z" class="m"/>
<circle cx="916" cy="1407.8" r="3.8" class="s"/>
<line x1="912.2" y1="1407.8" x2="919.8" y2="1407.8" class="s"/>
<line x1="916" y1="1404" x2="916" y2="1411.6" class="s"/>
<text x="179.82" y="1516.5" font-size="31.25" text-anchor="start" textLength="91.16" lengthAdjust="spacingAndGlyphs" class="tc">Рисунок</text>
<text x="285.16" y="1517.32" font-size="28.95" text-anchor="start" textLength="16.66" lengthAdjust="spacingAndGlyphs" class="tc">3</text>
<text x="318.4" y="1516.4" font-size="31" text-anchor="start" textLength="14.71" lengthAdjust="spacingAndGlyphs" class="tc">–</text>
<text x="343.41" y="1516.4" font-size="31.4" text-anchor="start" textLength="86.29" lengthAdjust="spacingAndGlyphs" class="tc">ДД-010</text>
</svg>
</body></html>
